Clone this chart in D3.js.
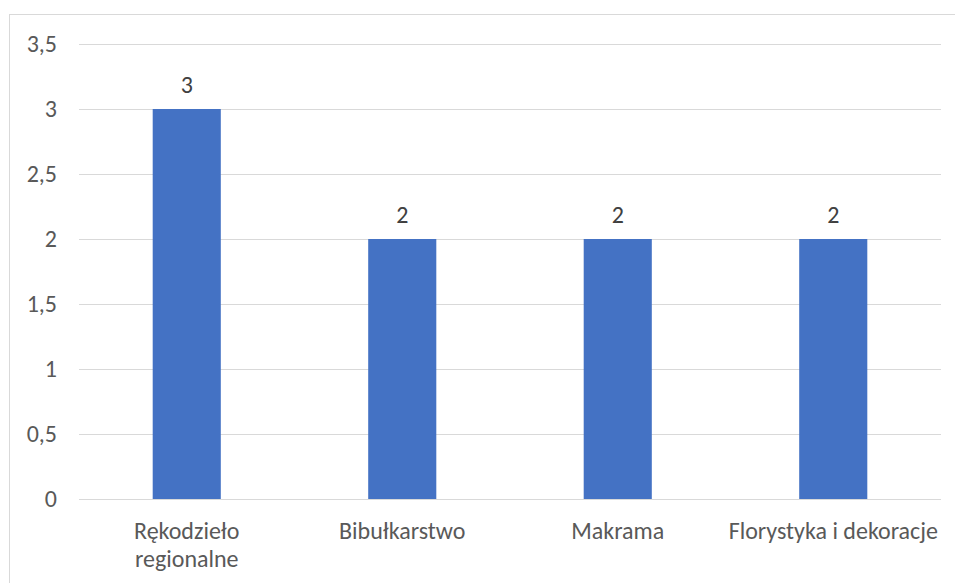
<!DOCTYPE html>
<html><head><meta charset="utf-8">
<script src="https://cdn.jsdelivr.net/npm/d3@7"></script>
<style>
html,body{margin:0;padding:0;background:#fff;}
svg{display:block;font-family:Carlito,"Open Sans","Noto Sans",sans-serif;}
</style></head>
<body><svg id="c" width="955" height="583"></svg>
<script>
const categories = [["Rękodzieło","regionalne"],["Bibułkarstwo"],["Makrama"],["Florystyka i dekoracje"]];
const values = [3, 2, 2, 2];
const yTicks = [0, 0.5, 1, 1.5, 2, 2.5, 3, 3.5];
const yTickLabels = ["0","0,5","1","1,5","2","2,5","3","3,5"];

const svg = d3.select("#c");
const mLeft = 79, mRight = 941, mTop = 44, mBottom = 499;
const fs = "24px";
svg.append("rect").attr("x",9.5).attr("y",14.5).attr("width",960).attr("height",600)
  .attr("fill","#fff").attr("stroke","#d9d9d9").attr("stroke-width",1);

const x = d3.scaleBand().domain(d3.range(categories.length)).range([mLeft,mRight])
  .paddingInner(0.684).paddingOuter(0.342);
const y = d3.scaleLinear().domain([0,3.5]).range([mBottom,mTop]);

svg.append("g").selectAll("line").data(yTicks).join("line")
  .attr("x1",mLeft).attr("x2",mRight)
  .attr("y1",d=>Math.round(y(d))+0.5).attr("y2",d=>Math.round(y(d))+0.5)
  .attr("stroke","#d9d9d9").attr("stroke-width",1);

svg.append("g").selectAll("text").data(yTicks).join("text")
  .attr("x",57).attr("y",d=>y(d)).attr("dy","0.33em").attr("text-anchor","end")
  .attr("fill","#595959").style("font-size",fs)
  .text((d,i)=>yTickLabels[i]);

svg.append("g").selectAll("rect").data(values).join("rect")
  .attr("x",(d,i)=>x(i)).attr("width",x.bandwidth())
  .attr("y",d=>y(d)).attr("height",d=>y(0)-y(d))
  .attr("fill","#4472c4");

svg.append("g").selectAll("text").data(values).join("text")
  .attr("x",(d,i)=>x(i)+x.bandwidth()/2).attr("y",d=>y(d)-16)
  .attr("text-anchor","middle").attr("fill","#404040").style("font-size",fs)
  .text(d=>d);

const cat = svg.append("g").selectAll("text").data(categories).join("text")
  .attr("x",(d,i)=>x(i)+x.bandwidth()/2).attr("y",539)
  .attr("text-anchor","middle").attr("fill","#595959").style("font-size",fs);
cat.selectAll("tspan").data(d=>d).join("tspan")
  .attr("x",function(){return d3.select(this.parentNode).attr("x");})
  .attr("dy",(d,i)=>i===0?0:28).text(d=>d);
</script></body></html>
